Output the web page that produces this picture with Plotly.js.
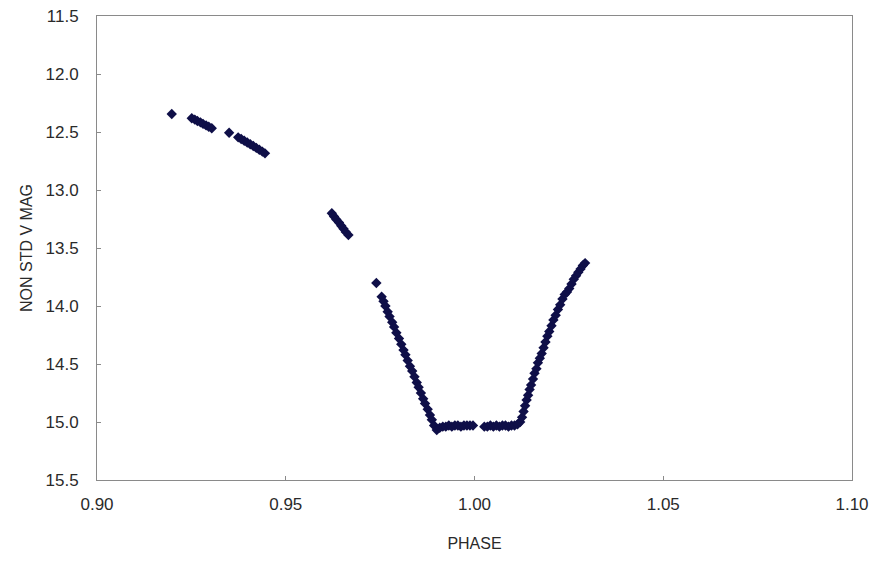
<!DOCTYPE html>
<html>
<head>
<meta charset="utf-8">
<script src="https://cdn.plot.ly/plotly-3.0.1.min.js"></script>
<style>html,body{margin:0;padding:0;background:#fff;}#chart{width:877px;height:561px;}</style>
</head>
<body>
<div id="chart"></div>
<script>
// Phase values (x) and non-standard V magnitudes (y)
const phase = [
  0.9198,
  0.9251, 0.9259, 0.9266, 0.9274, 0.9281, 0.9289, 0.9296, 0.9304,
  0.9350,
  0.9374, 0.9382, 0.9390, 0.9398, 0.9406, 0.9414, 0.9422, 0.9430, 0.9438, 0.9445,
  0.9622, 0.9628, 0.9634, 0.9641, 0.9647, 0.9653, 0.9659, 0.9666,
  0.9740,
  0.9754, 0.9759, 0.9764, 0.9770, 0.9775, 0.9782, 0.9787, 0.9793, 0.9800, 0.9806,
  0.9812, 0.9817, 0.9823, 0.9829, 0.9835, 0.9841, 0.9847, 0.9852, 0.9858, 0.9864,
  0.9869, 0.9876, 0.9882, 0.9887, 0.9893, 0.9900,
  0.9908, 0.9916, 0.9924, 0.9932, 0.9940, 0.9948, 0.9956, 0.9964, 0.9972, 0.9980, 0.9988, 0.9996,
  1.0026, 1.0034, 1.0042, 1.0050, 1.0058, 1.0066, 1.0074, 1.0082, 1.0090, 1.0098, 1.0106, 1.0114, 1.0121,
  1.0126, 1.0130, 1.0134, 1.0138, 1.0142, 1.0146, 1.0150, 1.0155, 1.0159, 1.0164,
  1.0168, 1.0173, 1.0178, 1.0183, 1.0188, 1.0193, 1.0198, 1.0204, 1.0209, 1.0215,
  1.0221, 1.0227, 1.0233, 1.0239, 1.0245, 1.0251, 1.0257, 1.0263, 1.0269, 1.0275,
  1.0281, 1.0287, 1.0293
];
const vmag = [
  12.345,
  12.382, 12.393, 12.405, 12.417, 12.430, 12.443, 12.455, 12.468,
  12.506,
  12.546, 12.560, 12.575, 12.590, 12.605, 12.621, 12.637, 12.653, 12.669, 12.684,
  13.201, 13.228, 13.254, 13.281, 13.308, 13.334, 13.361, 13.388,
  13.802,
  13.92, 13.96, 14.00, 14.05, 14.09, 14.14, 14.18, 14.23, 14.28, 14.33,
  14.38, 14.42, 14.47, 14.52, 14.56, 14.61, 14.66, 14.70, 14.75, 14.80,
  14.84, 14.89, 14.94, 14.98, 15.03, 15.07,
  15.05, 15.04, 15.04, 15.03, 15.04, 15.03, 15.03, 15.04, 15.03, 15.03, 15.03, 15.03,
  15.04, 15.04, 15.03, 15.04, 15.03, 15.04, 15.03, 15.03, 15.04, 15.03, 15.03, 15.02, 15.00,
  14.96, 14.91, 14.86, 14.81, 14.77, 14.72, 14.68, 14.63, 14.58, 14.54,
  14.49, 14.45, 14.41, 14.36, 14.31, 14.26, 14.22, 14.17, 14.12, 14.08,
  14.03, 13.99, 13.94, 13.90, 13.88, 13.85, 13.81, 13.77, 13.74, 13.71,
  13.68, 13.65, 13.63
];
const xTicks = [0.90, 0.95, 1.00, 1.05, 1.10];
const xTickLabels = ["0.90", "0.95", "1.00", "1.05", "1.10"];
const yTicks = [11.5, 12.0, 12.5, 13.0, 13.5, 14.0, 14.5, 15.0, 15.5];
const yTickLabels = ["11.5", "12.0", "12.5", "13.0", "13.5", "14.0", "14.5", "15.0", "15.5"];

const trace = {
  x: phase,
  y: vmag,
  type: 'scatter',
  mode: 'markers',
  marker: { symbol: 'diamond', size: 8, color: '#0f0f48' },
  hoverinfo: 'x+y'
};

const fontFam = 'Liberation Sans, Arial, sans-serif';
const axisCommon = {
  showline: true,
  mirror: true,
  linecolor: '#8a8a8a',
  linewidth: 1,
  showgrid: false,
  zeroline: false,
  ticks: 'inside',
  ticklen: 4,
  tickcolor: '#8a8a8a',
  tickfont: { family: fontFam, size: 17, color: '#2a2a2a' }
};

const layout = {
  width: 877,
  height: 561,
  margin: { l: 97, r: 25, t: 16, b: 81 },
  paper_bgcolor: '#ffffff',
  plot_bgcolor: '#ffffff',
  showlegend: false,
  font: { family: fontFam, size: 16, color: '#2a2a2a' },
  xaxis: Object.assign({}, axisCommon, {
    range: [0.90, 1.10],
    tickmode: 'array',
    tickvals: xTicks,
    ticktext: xTickLabels,
    ticklabelstandoff: 9,
    title: { text: 'PHASE', font: { size: 16, color: '#2a2a2a' }, standoff: 24 }
  }),
  yaxis: Object.assign({}, axisCommon, {
    range: [15.5, 11.5],
    tickmode: 'array',
    tickvals: yTicks,
    ticktext: yTickLabels,
    ticklabelstandoff: 14,
    title: { text: 'NON STD V MAG', font: { size: 16, color: '#2a2a2a' }, standoff: 8 }
  })
};

Plotly.newPlot('chart', [trace], layout, { displayModeBar: false, staticPlot: true });
</script>
</body>
</html>
